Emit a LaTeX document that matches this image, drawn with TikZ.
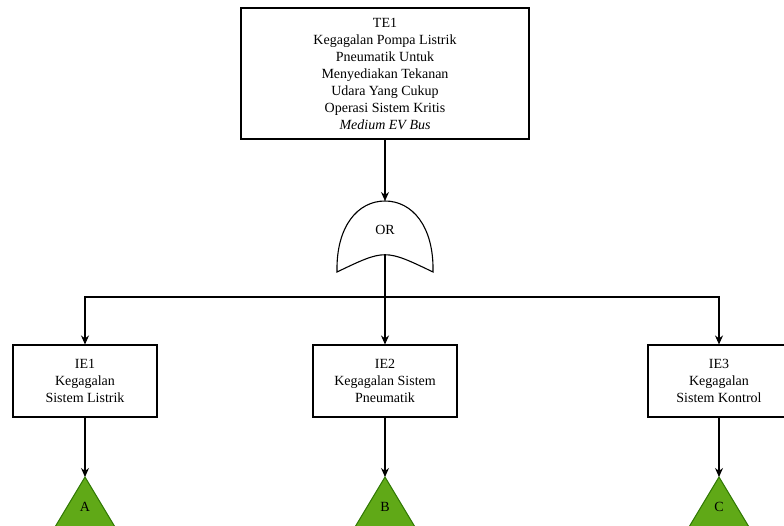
\documentclass[tikz,border=0pt]{standalone}
\usepackage{fontspec}
\setmainfont{Liberation Serif}
\usetikzlibrary{arrows.meta}
\definecolor{gfill}{HTML}{60A917}
\definecolor{gdraw}{HTML}{2D7600}
\tikzset{
  box/.style={draw, line width=1.1pt, align=center, inner sep=0pt, font=\fontsize{14}{17}\selectfont},
  lbl/.style={inner sep=0pt, font=\fontsize{14}{17}\selectfont},
  arr/.style={line width=1.1pt, -{Stealth[length=9pt,width=8pt]}},
  ln/.style={line width=1.1pt},
  tri/.style={draw=gdraw, fill=gfill, line width=1pt},
}
\begin{document}
\begin{tikzpicture}[x=1pt,y=-1pt]
\clip (0,0) rectangle (784,526);
\fill[white] (0,0) rectangle (784,526);
% top event
\node[box, minimum width=288pt, minimum height=131pt] (te1) at (385,73.5)
  {TE1\\Kegagalan Pompa Listrik\\Pneumatik Untuk\\Menyediakan Tekanan\\Udara Yang Cukup\\Operasi Sistem Kritis\\\textit{Medium EV Bus}};
% OR gate
\coordinate (gtop) at (385,201);
\coordinate (gbot) at (385,255);
\draw[ln] (337,272) .. controls (336,226) and (358,201) .. (gtop)
  .. controls (412,201) and (434,226) .. (433,272)
  .. controls (385,249) .. (337,272) -- cycle;
\node[lbl] (or) at (385,230) {OR};
% intermediate events
\node[box, minimum width=144pt, minimum height=72pt] (ie1) at (85,381) {IE1\\Kegagalan\\Sistem Listrik};
\node[box, minimum width=144pt, minimum height=72pt] (ie2) at (385,381) {IE2\\Kegagalan Sistem\\Pneumatik};
\node[box, minimum width=142pt, minimum height=72pt] (ie3) at (719,381) {IE3\\Kegagalan\\Sistem Kontrol};
% transfer triangles
\coordinate (ta) at (85,477);
\coordinate (tb) at (385,477);
\coordinate (tc) at (719,477);
\draw[tri] (ta) -- ++(-30,50) -- ++(60,0) -- cycle;
\draw[tri] (tb) -- ++(-30,50) -- ++(60,0) -- cycle;
\draw[tri] (tc) -- ++(-30,50) -- ++(60,0) -- cycle;
\node[lbl] (la) at (85,507) {A};
\node[lbl] (lb) at (385,507) {B};
\node[lbl] (lc) at (719,507) {C};
% connectors
\coordinate (bus) at (385,297);
\draw[arr] (te1.south) -- (gtop);
\draw[ln] (gbot) -- (bus);
\draw[arr] (bus) -| (ie1.north);
\draw[arr] (bus) -- (ie2.north);
\draw[arr] (bus) -| (ie3.north);
\draw[arr] (ie1.south) -- (ta);
\draw[arr] (ie2.south) -- (tb);
\draw[arr] (ie3.south) -- (tc);
\end{tikzpicture}
\end{document}
